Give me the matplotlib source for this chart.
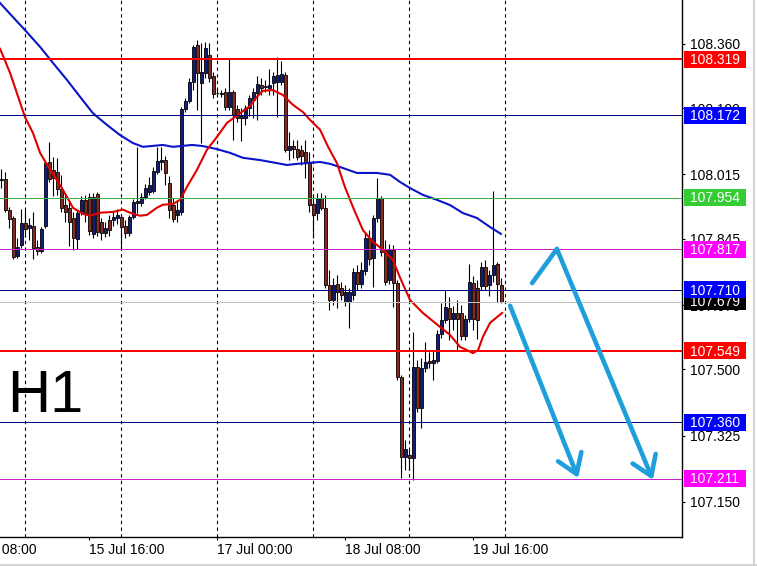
import numpy as np
import matplotlib
matplotlib.use("Agg")
import matplotlib.pyplot as plt
import matplotlib.transforms as mtransforms
from matplotlib.patches import Rectangle, FancyArrowPatch, ArrowStyle
from matplotlib.lines import Line2D

plt.rcParams['font.family'] = ['Liberation Sans', 'DejaVu Sans']

# H1 candles (bar 0 = leftmost visible bar)
opens = [108.001, 108.003, 107.922, 107.900, 107.800, 107.829, 107.887, 107.874, 107.879, 107.824,
         107.813, 107.879, 108.048, 108.027, 108.022, 107.977, 107.935, 107.927, 107.900, 107.845,
         107.916, 107.948, 107.956, 107.858, 107.964, 107.890, 107.861, 107.895, 107.895, 107.900,
         107.903, 107.879, 107.861, 107.903, 107.940, 107.940, 107.956, 107.969, 107.972, 108.022,
         108.048, 108.053, 107.993, 107.935, 107.908, 107.916, 108.188, 108.209, 108.259, 108.357,
         108.257, 108.283, 108.331, 108.275, 108.230, 108.230, 108.233, 108.193, 108.233, 108.188,
         108.164, 108.164, 108.191, 108.212, 108.230, 108.251, 108.246, 108.244, 108.257, 108.259,
         108.259, 108.278, 108.080, 108.090, 108.082, 108.080, 108.075, 108.045, 107.938, 107.914,
         107.953, 107.927, 107.723, 107.683, 107.726, 107.716, 107.678, 107.678, 107.697, 107.758,
         107.726, 107.760, 107.848, 107.795, 107.900, 107.953, 107.816, 107.736, 107.816, 107.729,
         107.480, 107.268, 107.273, 107.265, 107.506, 107.397, 107.504, 107.522, 107.517, 107.522,
         107.593, 107.630, 107.662, 107.633, 107.649, 107.649, 107.588, 107.633, 107.728, 107.716,
         107.721, 107.771, 107.723, 107.750, 107.779, 107.723]
highs = [108.030, 108.022, 107.930, 107.906, 107.848, 107.924, 107.922, 107.900, 107.916, 107.842,
         107.877, 108.053, 108.101, 108.061, 108.058, 108.014, 107.966, 107.948, 107.916, 107.922,
         107.959, 107.962, 107.966, 107.966, 107.969, 107.900, 107.890, 107.908, 107.916, 107.924,
         107.911, 107.895, 107.908, 107.951, 108.088, 107.966, 107.990, 108.009, 108.035, 108.088,
         108.088, 108.064, 108.011, 107.953, 107.948, 108.194, 108.217, 108.270, 108.357, 108.370,
         108.362, 108.365, 108.362, 108.286, 108.244, 108.238, 108.244, 108.320, 108.238, 108.199,
         108.191, 108.199, 108.225, 108.244, 108.275, 108.270, 108.265, 108.294, 108.286, 108.325,
         108.315, 108.286, 108.127, 108.106, 108.106, 108.093, 108.106, 108.075, 107.962, 107.966,
         107.966, 107.962, 107.763, 107.742, 107.750, 107.732, 107.723, 107.716, 107.768, 107.776,
         107.784, 107.861, 107.869, 107.908, 108.006, 107.959, 107.842, 107.832, 107.829, 107.736,
         107.485, 107.313, 107.287, 107.598, 107.525, 107.530, 107.572, 107.546, 107.551, 107.604,
         107.676, 107.710, 107.691, 107.668, 107.683, 107.670, 107.644, 107.778, 107.747, 107.736,
         107.784, 107.789, 107.763, 107.972, 107.784, 107.742]
lows = [107.980, 107.916, 107.874, 107.792, 107.795, 107.821, 107.850, 107.842, 107.792, 107.803,
        107.808, 107.874, 107.995, 107.959, 107.962, 107.916, 107.890, 107.826, 107.816, 107.818,
        107.908, 107.890, 107.855, 107.848, 107.853, 107.842, 107.850, 107.853, 107.879, 107.884,
        107.816, 107.848, 107.853, 107.898, 107.914, 107.932, 107.951, 107.962, 107.966, 108.017,
        108.027, 107.987, 107.900, 107.890, 107.890, 107.908, 108.180, 108.204, 108.238, 108.186,
        108.098, 108.270, 108.259, 108.217, 108.222, 108.220, 108.186, 108.186, 108.106, 108.154,
        108.103, 108.146, 108.170, 108.164, 108.159, 108.225, 108.233, 108.225, 108.225, 108.167,
        108.251, 108.075, 108.053, 108.058, 108.053, 108.040, 108.006, 107.916, 107.848, 107.895,
        107.922, 107.716, 107.657, 107.670, 107.662, 107.683, 107.667, 107.609, 107.683, 107.710,
        107.716, 107.750, 107.776, 107.718, 107.890, 107.800, 107.723, 107.726, 107.665, 107.472,
        107.213, 107.235, 107.235, 107.208, 107.387, 107.345, 107.493, 107.504, 107.472, 107.517,
        107.583, 107.622, 107.578, 107.604, 107.552, 107.578, 107.578, 107.625, 107.604, 107.580,
        107.710, 107.710, 107.694, 107.731, 107.678, 107.675]
closes = [108.003, 107.922, 107.898, 107.797, 107.824, 107.887, 107.871, 107.882, 107.821, 107.813,
          107.871, 108.045, 108.003, 108.006, 107.977, 107.927, 107.916, 107.890, 107.848, 107.914,
          107.948, 107.914, 107.866, 107.956, 107.863, 107.861, 107.874, 107.869, 107.903, 107.908,
          107.877, 107.861, 107.903, 107.943, 107.945, 107.956, 107.980, 107.987, 108.024, 108.051,
          108.053, 108.019, 107.922, 107.898, 107.922, 108.188, 108.209, 108.259, 108.352, 108.283,
          108.286, 108.349, 108.270, 108.228, 108.230, 108.228, 108.193, 108.233, 108.172, 108.164,
          108.170, 108.191, 108.217, 108.233, 108.254, 108.244, 108.249, 108.251, 108.275, 108.278,
          108.280, 108.080, 108.090, 108.082, 108.061, 108.064, 108.045, 107.935, 107.908, 107.953,
          107.927, 107.723, 107.683, 107.723, 107.705, 107.697, 107.705, 107.705, 107.758, 107.726,
          107.763, 107.848, 107.792, 107.900, 107.953, 107.811, 107.731, 107.816, 107.729, 107.480,
          107.268, 107.289, 107.265, 107.506, 107.397, 107.504, 107.520, 107.517, 107.525, 107.593,
          107.630, 107.664, 107.633, 107.649, 107.633, 107.588, 107.633, 107.731, 107.633, 107.630,
          107.771, 107.721, 107.750, 107.776, 107.726, 107.679]

# moving averages, sampled along the drawn curves (bar position, price)
ma_fast_x = [-0.3, 2.2, 3.9, 5.9, 7.9, 9.7, 12.2, 14.7, 16.4, 17.9, 20.4, 22.2, 24.7, 27.9, 30.4,
             32.9, 34.7, 36.4, 38.9, 40.4, 42.9, 44.7, 46.4, 48.9, 51.4, 53.9, 56.4, 59.7, 62.2,
             63.9, 65.4, 67.9, 70.4, 72.9, 75.4, 77.2, 79.7, 81.7, 83.9, 85.9, 87.9, 90.4, 92.9,
             95.4, 97.9, 99.7, 102.2, 105.4, 109.7, 112.2, 114.7, 116.4, 117.9, 119.2, 120.4,
             122.2, 125.2]
ma_fast_y = [108.347, 108.283, 108.230, 108.167, 108.125, 108.072, 108.027, 107.987, 107.956,
             107.927, 107.911, 107.906, 107.914, 107.916, 107.922, 107.911, 107.906, 107.908,
             107.927, 107.935, 107.937, 107.948, 107.982, 108.027, 108.080, 108.114, 108.151,
             108.177, 108.196, 108.220, 108.236, 108.238, 108.225, 108.199, 108.180, 108.159,
             108.133, 108.088, 108.045, 107.982, 107.929, 107.868, 107.837, 107.816, 107.789,
             107.742, 107.683, 107.649, 107.612, 107.591, 107.559, 107.551, 107.543, 107.551,
             107.586, 107.623, 107.649]
ma_slow_x = [-0.3, 2.9, 6.4, 9.7, 12.9, 16.4, 19.7, 22.9, 26.4, 29.7, 32.9, 35.4, 40.4, 42.9,
             47.7, 50.4, 53.9, 57.2, 60.4, 64.7, 68.9, 71.4, 73.9, 76.4, 79.7, 82.2, 85.4, 88.9,
             91.4, 93.9, 97.2, 99.7, 102.2, 105.4, 108.9, 112.2, 115.4, 118.9, 122.2, 124.9]
ma_slow_y = [108.468, 108.431, 108.391, 108.352, 108.310, 108.265, 108.220, 108.177, 108.146,
             108.119, 108.098, 108.088, 108.093, 108.088, 108.093, 108.090, 108.082, 108.072,
             108.059, 108.053, 108.045, 108.040, 108.043, 108.045, 108.048, 108.043, 108.032,
             108.019, 108.019, 108.019, 108.014, 107.995, 107.979, 107.961, 107.948, 107.934,
             107.913, 107.900, 107.876, 107.858]

# horizontal levels
levels = [108.319, 108.172, 107.954, 107.817, 107.679, 107.710, 107.549, 107.360, 107.211]
level_colors = ['#ff0000', '#000080', '#3cb043', '#cc22cc', '#c0c0c0', '#000080', '#ff0000', '#000080', '#cc22cc']
label_colors = ['#ff0000', '#0000ff', '#33cc33', '#ff00ff', '#000000', '#0000ff', '#ff0000', '#0000ff', '#ff00ff']
level_px = [2, 1, 1, 1, 1, 1, 2, 1, 1]

price_ticks = [108.360, 108.190, 108.015, 107.845, 107.670, 107.500, 107.325, 107.150]
time_ticks = [22, 54, 86, 118]
time_labels = ['15 Jul 16:00', '17 Jul 00:00', '18 Jul 08:00', '19 Jul 16:00']
day_lines = [6, 30, 54, 78, 102, 126]

# hand-drawn forecast arrows
path_a = [(132.7, 107.728), (138.9, 107.818), (162.9, 107.208)]
path_b = [(127.2, 107.668), (144.2, 107.213)]

W, H = 757, 566
fig = plt.figure(figsize=(W / 100, H / 100), dpi=100)
ax = fig.add_axes([0, 29 / H, 682 / W, 537 / H])
ax.set_xlim(-0.325, 170.175)
ax.set_ylim(107.057, 108.476)

for d in day_lines:
    ax.axvline(d, color='black', lw=0.8, ls=(0, (3, 3)), zorder=1)

o = np.array(opens); c = np.array(closes)
hi = np.array(highs); lo = np.array(lows)
idx = np.arange(len(o))
up = c >= o
ax.vlines(idx, lo, hi, color='black', lw=0.8, zorder=2)
body = np.maximum(np.abs(c - o), 0.0012)
ax.bar(idx[up], body[up], bottom=np.minimum(o, c)[up], width=0.75,
       color='#131d78', edgecolor='black', lw=0.6, zorder=2.2)
ax.bar(idx[~up], body[~up], bottom=np.minimum(o, c)[~up], width=0.75,
       color='#862a1f', edgecolor='black', lw=0.6, zorder=2.2)

ax.plot(ma_slow_x, ma_slow_y, color='#0a14c8', lw=1.5, zorder=2.5)
ax.plot(ma_fast_x, ma_fast_y, color='#e00000', lw=1.5, zorder=2.5)

for lv, lc, px in zip(levels, level_colors, level_px):
    ax.axhline(lv, color=lc, lw=px * 0.72, zorder=3)

blend = mtransforms.blended_transform_factory(ax.transAxes, ax.transData)
box_h = 17 * (108.476 - 107.057) / 537
for i, (lv, bc) in enumerate(zip(levels, label_colors)):
    z = 6 + i * 0.01
    ax.add_patch(Rectangle((1 + 2 / 682, lv - box_h / 2), 62 / 682, box_h, transform=blend,
                           facecolor=bc, edgecolor='none', clip_on=False, zorder=z))
    ax.text(1 + 8 / 682, lv - 0.002, f'{lv:.3f}', transform=blend, color='white', fontsize=10,
            ha='left', va='center', clip_on=False, zorder=z + 0.005)

acol = '#1e9fdb'
ax.plot([path_a[0][0], path_a[1][0]], [path_a[0][1], path_a[1][1]], color=acol, lw=3.3,
        solid_capstyle='round', zorder=4)
style = ArrowStyle('->', head_length=13.5, head_width=9)
for p0, p1 in [(path_a[1], path_a[2]), (path_b[0], path_b[1])]:
    ax.add_patch(FancyArrowPatch(p0, p1, arrowstyle=style, mutation_scale=1, color=acol, lw=3.3,
                                 shrinkA=0, shrinkB=0, capstyle='round', joinstyle='round', zorder=4))

ax.text(7 / 682, 1 - 412 / 537, 'H1', transform=ax.transAxes, fontsize=43, ha='left',
        va='baseline', color='black', zorder=5)

ax.spines['top'].set_visible(False)
ax.spines['left'].set_visible(False)
ax.spines['right'].set_linewidth(1)
ax.spines['bottom'].set_linewidth(1)
ax.yaxis.tick_right()
ax.set_yticks(price_ticks)
ax.set_yticklabels([f'{t:.3f}' for t in price_ticks])
ax.tick_params(axis='y', direction='out', length=2.2, pad=3.6, labelsize=10, width=0.8)
ax.set_xticks(time_ticks)
ax.set_xticklabels(time_labels)
ax.tick_params(axis='x', direction='out', length=2.2, pad=2, labelsize=10, width=0.8)
for t in ax.get_xticklabels():
    t.set_ha('left')
off = mtransforms.ScaledTranslation(0, -4.2 / 72, fig.dpi_scale_trans)
ax.text(-10, 0, '15 Jul 08:00', transform=mtransforms.blended_transform_factory(ax.transData, ax.transAxes) + off,
        fontsize=10, ha='left', va='top', clip_on=False)

fig.add_artist(Line2D([754 / W, 754 / W], [0, 1], color='#d4d4d4', lw=1.5))
fig.add_artist(Line2D([0, 1], [1.5 / H, 1.5 / H], color='#d4d4d4', lw=1.5))

fig.savefig('out.png', dpi=100, facecolor='white')
